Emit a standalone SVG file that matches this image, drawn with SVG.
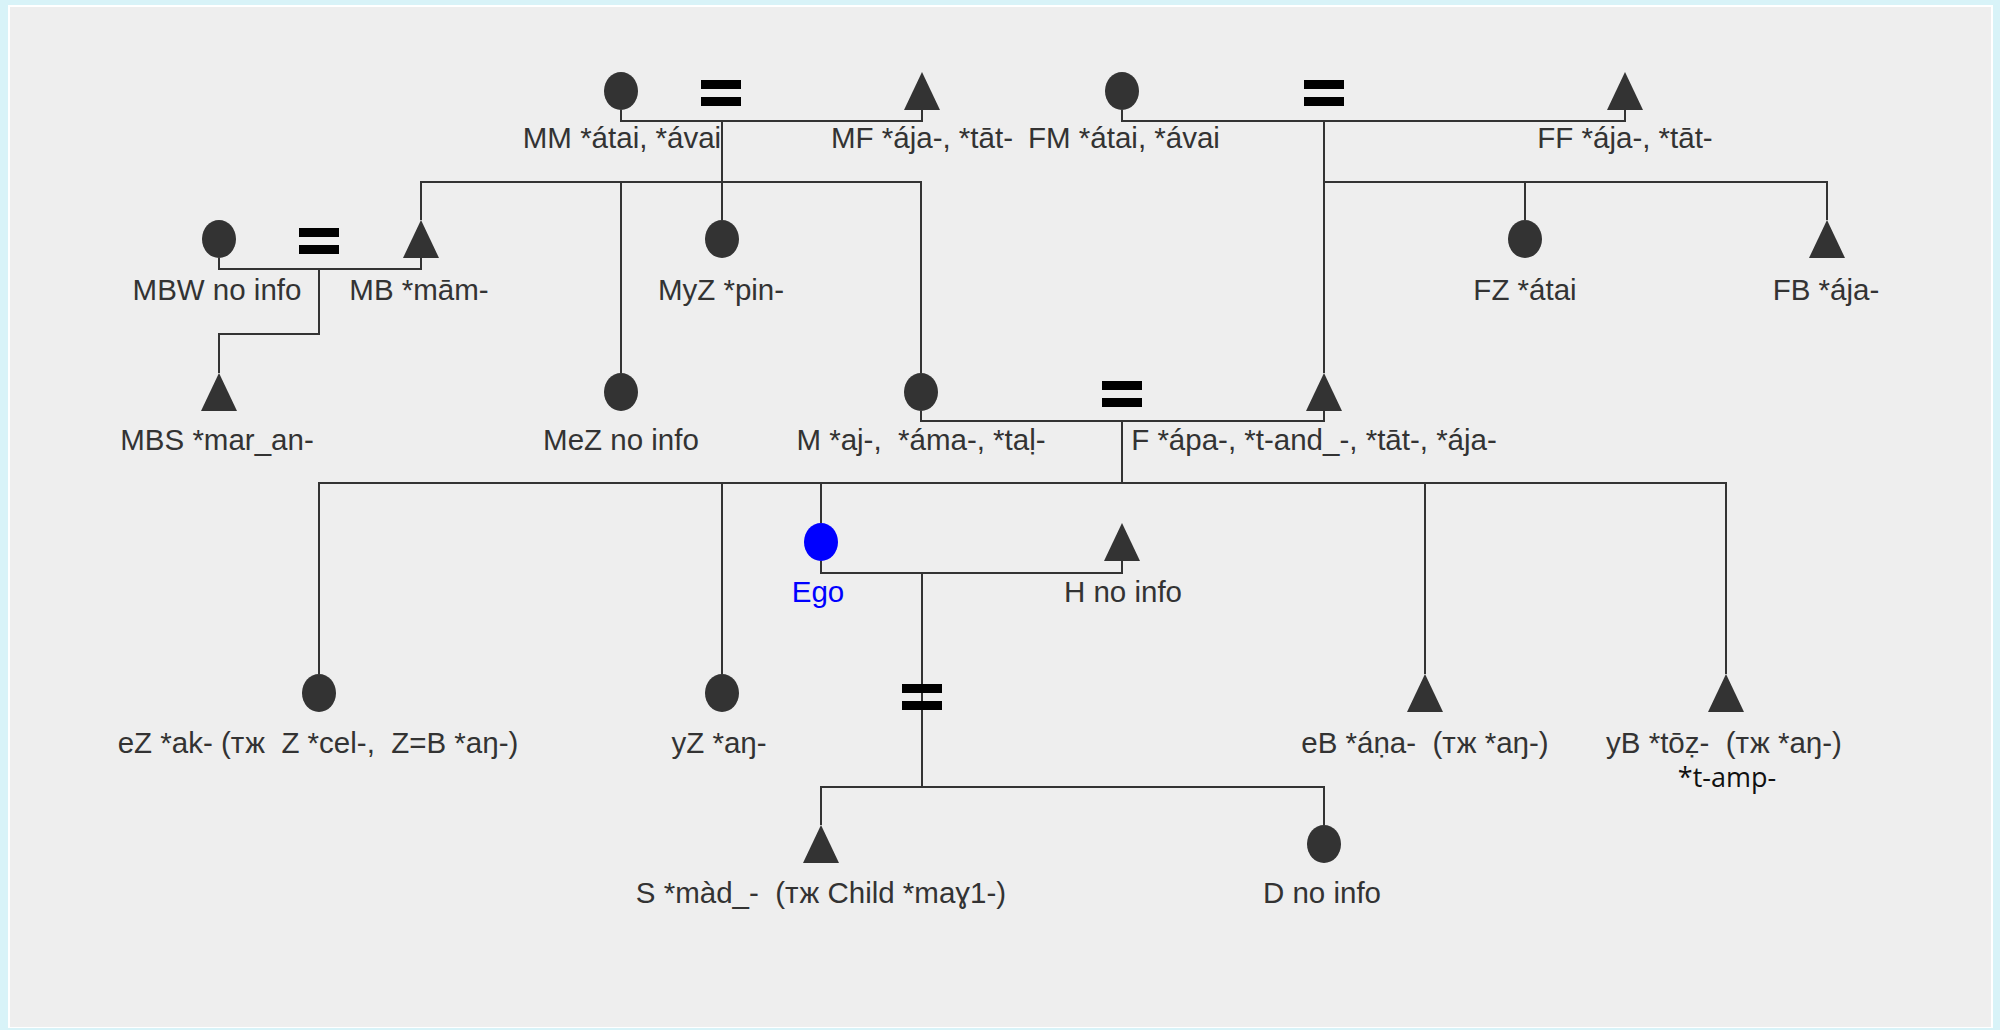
<svg xmlns="http://www.w3.org/2000/svg" width="2000" height="1030" viewBox="0 0 2000 1030">
<style>
.ln{fill:none;stroke:#333;stroke-width:2}
.nd{fill:#333}
.eq{fill:#000}
text{font-family:"Liberation Sans",Arial,sans-serif;font-size:29.5px;fill:#333;text-anchor:middle;white-space:pre}
.ego{fill:#0000ff}
.alt{font-family:"Open Sans","Noto Sans",sans-serif;font-size:27px;fill:#111}
</style>
<defs>
<ellipse id="c" cx="0" cy="0" rx="17" ry="19"/>
<path id="t" d="M0,0 L18,38 L-18,38 Z"/>
<g id="e"><rect x="-20" y="-13" width="40" height="9"/><rect x="-20" y="4" width="40" height="9"/></g>
</defs>
<rect x="0" y="0" width="2000" height="1030" fill="#d8f3f8"/>
<rect x="8" y="5" width="1985" height="1023" fill="#ffffff"/>
<rect x="10" y="7" width="1981" height="1020" fill="#eeeeee"/>

<g id="connectors">
<path class="ln" d="M621,110 V121 H922 V110"/>
<path class="ln" d="M722,121 V182"/>
<path class="ln" d="M1122,110 V121 H1625 V110"/>
<path class="ln" d="M1324,121 V373"/>
<path class="ln" d="M421,220 V182 H921 V373"/>
<path class="ln" d="M621,182 V373"/>
<path class="ln" d="M722,182 V220"/>
<path class="ln" d="M1324,182 H1827 V220"/>
<path class="ln" d="M1525,182 V220"/>
<path class="ln" d="M219,258 V269 H421 V258"/>
<path class="ln" d="M319,269 V334 H219 V373"/>
<path class="ln" d="M921,411 V421 H1324 V411"/>
<path class="ln" d="M1122,421 V483"/>
<path class="ln" d="M319,674 V483 H1726 V674"/>
<path class="ln" d="M722,483 V674"/>
<path class="ln" d="M821,483 V523"/>
<path class="ln" d="M1425,483 V674"/>
<path class="ln" d="M821,561 V573 H1122 V561"/>
<path class="ln" d="M922,573 V787"/>
<path class="ln" d="M821,825 V787 H1324 V825"/>
</g>

<g id="eq-MM-MF" class="eq"><use href="#e" x="721" y="93"/></g>
<g id="eq-FM-FF" class="eq"><use href="#e" x="1324" y="93"/></g>
<g id="eq-MBW-MB" class="eq"><use href="#e" x="319" y="241"/></g>
<g id="eq-M-F" class="eq"><use href="#e" x="1122" y="394"/></g>
<g id="eq-Ego-H" class="eq"><use href="#e" x="922" y="697"/></g>

<g id="MM"><use href="#c" x="621" y="91" class="nd"/><text x="622" y="148">MM *átai, *ávai</text></g>
<g id="MF"><use href="#t" x="922" y="72" class="nd"/><text x="922" y="148">MF *ája-, *tāt-</text></g>
<g id="FM"><use href="#c" x="1122" y="91" class="nd"/><text x="1124" y="148">FM *átai, *ávai</text></g>
<g id="FF"><use href="#t" x="1625" y="72" class="nd"/><text x="1625" y="148">FF *ája-, *tāt-</text></g>

<g id="MBW"><use href="#c" x="219" y="239" class="nd"/><text x="217" y="300">MBW no info</text></g>
<g id="MB"><use href="#t" x="421" y="220" class="nd"/><text x="419" y="300">MB *mām-</text></g>
<g id="MyZ"><use href="#c" x="722" y="239" class="nd"/><text x="721" y="300">MyZ *pin-</text></g>
<g id="FZ"><use href="#c" x="1525" y="239" class="nd"/><text x="1525" y="300">FZ *átai</text></g>
<g id="FB"><use href="#t" x="1827" y="220" class="nd"/><text x="1826" y="300">FB *ája-</text></g>

<g id="MBS"><use href="#t" x="219" y="373" class="nd"/><text x="217" y="450">MBS *mar_an-</text></g>
<g id="MeZ"><use href="#c" x="621" y="392" class="nd"/><text x="621" y="450">MeZ no info</text></g>
<g id="M"><use href="#c" x="921" y="392" class="nd"/><text x="921" y="450">M *aj-,  *áma-, *taḷ-</text></g>
<g id="F"><use href="#t" x="1324" y="373" class="nd"/><text x="1314" y="450">F *ápa-, *t-and_-, *tāt-, *ája-</text></g>

<g id="Ego"><use href="#c" x="821" y="542" class="ego"/><text x="818" y="602" class="ego">Ego</text></g>
<g id="H"><use href="#t" x="1122" y="523" class="nd"/><text x="1123" y="602">H no info</text></g>

<g id="eZ"><use href="#c" x="319" y="693" class="nd"/><text x="318" y="753">eZ *ak- (тж  Z *cel-,  Z=B *aŋ-)</text></g>
<g id="yZ"><use href="#c" x="722" y="693" class="nd"/><text x="719" y="753">yZ *aŋ-</text></g>
<g id="eB"><use href="#t" x="1425" y="674" class="nd"/><text x="1425" y="753">eB *áṇa-  (тж *aŋ-)</text></g>
<g id="yB"><use href="#t" x="1726" y="674" class="nd"/><text x="1724" y="753">yB *tōẓ-  (тж *aŋ-)</text><text x="1727" y="787" class="alt">*t-amp-</text></g>

<g id="S"><use href="#t" x="821" y="825" class="nd"/><text x="821" y="903">S *màd_-  (тж Child *maɣ1-)</text></g>
<g id="D"><use href="#c" x="1324" y="844" class="nd"/><text x="1322" y="903">D no info</text></g>
</svg>
